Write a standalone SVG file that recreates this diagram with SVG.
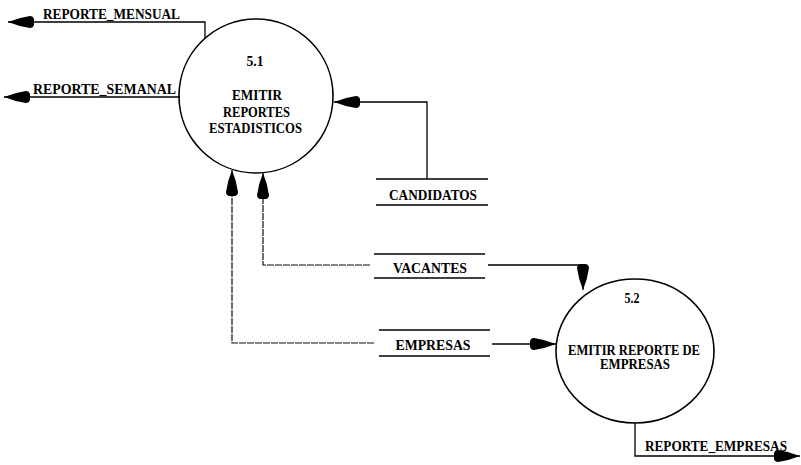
<svg xmlns="http://www.w3.org/2000/svg" width="801" height="465" viewBox="0 0 801 465">
<style>
.bg{fill:#ffffff}
.proc{fill:none;stroke:#000;stroke-width:1.6}
.flow{fill:none;stroke:#000;stroke-width:1.3}
.light{fill:none;stroke:#111;stroke-width:1.2;stroke-dasharray:7 1}
.store{fill:none;stroke:#000;stroke-width:1.3}
text{font-family:"Liberation Serif","Times New Roman",serif;font-weight:bold;fill:#000}
.t{font-size:14px;text-anchor:middle}
.lbl{font-size:14px}
.st{font-size:14.5px;text-anchor:middle}
</style>
<defs>
<marker id="arr" markerUnits="userSpaceOnUse" markerWidth="28" markerHeight="14" viewBox="0 -7 28 14" refX="26" refY="0" orient="auto">
<path d="M0,-3 Q1,-6 4,-6 Q15,-4.5 26,0 Q15,4.5 4,6 Q1,6 0,3 Z" fill="#000"/>
</marker>
</defs>
<rect class="bg" x="0" y="0" width="801" height="465"/>
<g id="connectors">
<polyline class="flow" points="205,39 205,22 8,22" marker-end="url(#arr)"/>
<polyline class="flow" points="180,97 4,97" marker-end="url(#arr)"/>
<polyline class="flow" points="427,179 427,102 334,102" marker-end="url(#arr)"/>
<polyline class="light" points="370,265 263,265 263,173" marker-end="url(#arr)"/>
<polyline class="light" points="374,343 232,343 232,170" marker-end="url(#arr)"/>
<polyline class="flow" points="488,265 583,265 583,290" marker-end="url(#arr)"/>
<polyline class="flow" points="492,344 556,344" marker-end="url(#arr)"/>
<polyline class="flow" points="635,423 635,456 800,456" marker-end="url(#arr)"/>
<text class="lbl" x="43" y="19" textLength="137" lengthAdjust="spacingAndGlyphs">REPORTE_MENSUAL</text>
<text class="lbl" x="33" y="94" textLength="143" lengthAdjust="spacingAndGlyphs">REPORTE_SEMANAL</text>
<text class="lbl" x="645" y="451" textLength="142" lengthAdjust="spacingAndGlyphs">REPORTE_EMPRESAS</text>
</g>
<g id="p51">
<circle class="proc" cx="256" cy="96" r="77"/>
<text class="t" x="255" y="66" textLength="17" lengthAdjust="spacingAndGlyphs">5.1</text>
<text class="t" x="257" y="100" textLength="50" lengthAdjust="spacingAndGlyphs">EMITIR</text>
<text class="t" x="256.5" y="117" textLength="67" lengthAdjust="spacingAndGlyphs">REPORTES</text>
<text class="t" x="255.5" y="133" textLength="93" lengthAdjust="spacingAndGlyphs">ESTADISTICOS</text>
</g>
<g id="p52">
<ellipse class="proc" cx="635" cy="351" rx="79" ry="72"/>
<text class="t" x="632" y="303" textLength="15" lengthAdjust="spacingAndGlyphs">5.2</text>
<text class="t" x="634" y="355" textLength="132" lengthAdjust="spacingAndGlyphs">EMITIR REPORTE DE</text>
<text class="t" x="635" y="369" textLength="70" lengthAdjust="spacingAndGlyphs">EMPRESAS</text>
</g>
<g id="candidatos">
<line class="store" x1="376" y1="179" x2="488" y2="179"/>
<line class="store" x1="376" y1="205" x2="488" y2="205"/>
<text class="st" x="433" y="200" textLength="88" lengthAdjust="spacingAndGlyphs">CANDIDATOS</text>
</g>
<g id="vacantes">
<line class="store" x1="374" y1="254" x2="485" y2="254"/>
<line class="store" x1="374" y1="278" x2="485" y2="278"/>
<text class="st" x="430" y="273" textLength="74" lengthAdjust="spacingAndGlyphs">VACANTES</text>
</g>
<g id="empresas">
<line class="store" x1="379" y1="330" x2="490" y2="330"/>
<line class="store" x1="379" y1="356" x2="490" y2="356"/>
<text class="st" x="433" y="350" textLength="75" lengthAdjust="spacingAndGlyphs">EMPRESAS</text>
</g>
</svg>
